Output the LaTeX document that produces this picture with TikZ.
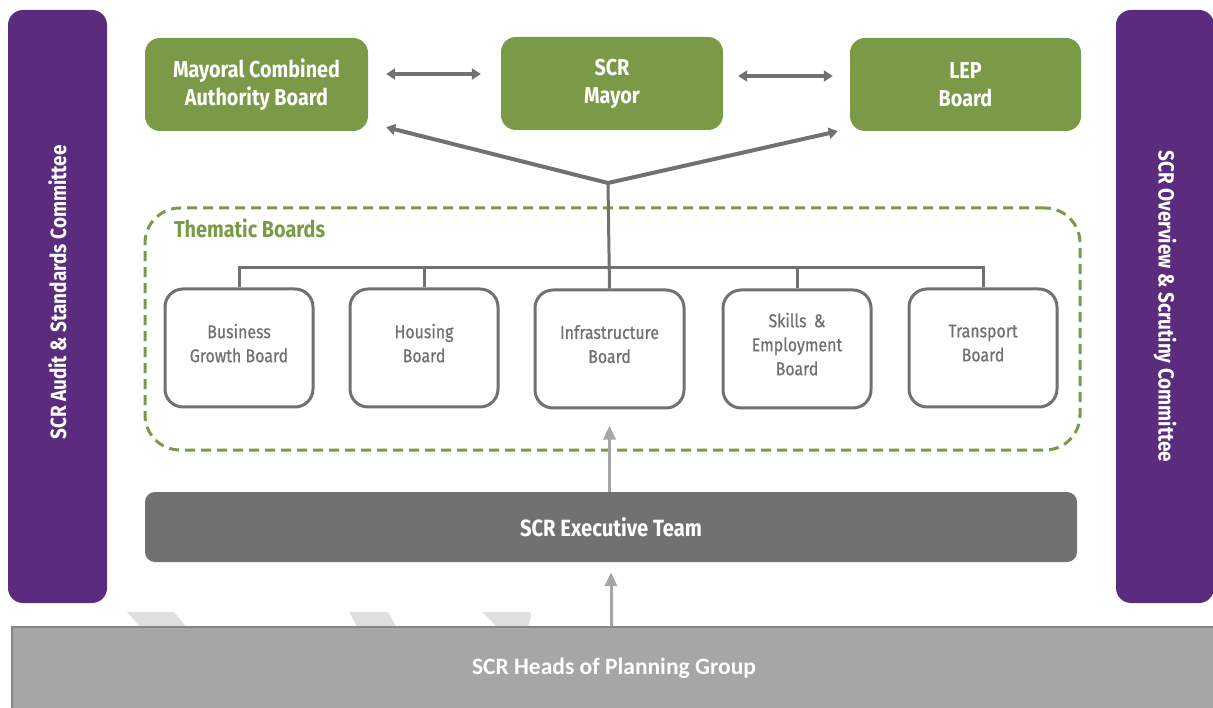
\documentclass[tikz,border=0pt]{standalone}
\usepackage{fontspec}
\setmainfont{Fira Sans}
\newfontfamily\boardfont[FakeStretch=0.86]{Fira Sans}
\newfontfamily\boardmid[FakeStretch=0.86,FakeBold=0.7]{Fira Sans}
\newfontfamily\planfont{Carlito}
\usetikzlibrary{arrows.meta}
\definecolor{scrgreen}{HTML}{7A9A48}
\definecolor{scrpurple}{HTML}{5B2C7E}
\definecolor{scrgrey}{HTML}{717171}
\definecolor{scrlight}{HTML}{A6A6A6}
\definecolor{scrfaint}{HTML}{DFDFDF}

\begin{document}
\begin{tikzpicture}[x=1pt,y=-1pt,
  greenbox/.style={fill=scrgreen,rounded corners=15pt,minimum width=223pt,minimum height=93pt,
    text=white,align=center,font=\boardfont\bfseries\fontsize{23}{28}\selectfont},
  boardbox/.style={draw=scrgrey,line width=3pt,fill=white,rounded corners=18pt,minimum width=148pt,
    minimum height=118pt,text=scrgrey,align=center,font=\boardmid\fontsize{18.5}{24}\selectfont},
  sidebar/.style={fill=scrpurple,rounded corners=15pt,minimum width=593pt,minimum height=99pt,
    text=white,font=\boardfont\bfseries\fontsize{22}{24}\selectfont},
  duo/.style={draw=scrgrey,line width=4pt,{Triangle[length=9pt,width=11pt]}-{Triangle[length=9pt,width=11pt]}},
  fork/.style={draw=scrgrey,line width=4pt,-{Triangle[length=9pt,width=11pt]}},
  bus/.style={draw=scrgrey,line width=3pt},
  uparrow/.style={draw=scrlight,line width=3pt,-{Triangle[length=14pt,width=12pt]}}]

\useasboundingbox (0,0) rectangle (1213,708);

\fill[scrfaint] (127,612) -- (174,612) -- (187,628) -- (141,628) -- cycle;
\fill[scrfaint] (349,612) -- (388,612) -- (397,628) -- (358,628) -- cycle;
\fill[scrfaint] (482,612) -- (530,612) to[out=-60,in=90] (528,628) -- (498,628) -- cycle;

\node[sidebar,rotate=90] (Auditx) at (57.5,306.5) {\hspace{28pt}SCR Audit \& Standards Committee};
\node[sidebar,rotate=-90,minimum height=98pt] (Scrutinyx) at (1165,306.5) {SCR Overview \& Scrutiny Committee\hspace{30pt}};

\node[greenbox] (MCAx) at (256.5,84.5) {Mayoral Combined\\Authority Board};
\node[greenbox,minimum width=222pt] (Mayorx) at (612,83.5) {SCR\\Mayor};
\node[greenbox,minimum width=231pt] (LEPx) at (965.5,84.5) {LEP\\Board};
\draw[duo] ([xshift=18pt,yshift=10.5pt]MCAx.east) -- ([xshift=-20pt,yshift=9.5pt]Mayorx.west);
\draw[duo] ([xshift=15pt,yshift=7.5pt]Mayorx.east) -- ([xshift=-17pt,yshift=8.5pt]LEPx.west);

\node[draw=scrgreen,dashed,dash pattern=on 10pt off 6pt,line width=3pt,rounded corners=35pt,
  minimum width=935pt,minimum height=242pt] (Themex) at (612.5,329) {};
\node[anchor=west,text=scrgreen,font=\boardfont\bfseries\fontsize{23}{24}\selectfont] (ThemeLx)
  at ([xshift=27pt,yshift=-22pt]Themex.north west) {Thematic Boards};

\node[boardbox] (BGx) at (239,348) {Business\\Growth Board\\[-14pt]};
\node[boardbox] (Housx) at (424,348) {Housing\\Board\\[-14pt]};
\node[boardbox,minimum width=149pt] (Infrax) at (609.5,349) {Infrastructure\\Board\\[-14pt]};
\node[boardbox] (Skillsx) at (797,349) {Skills \,\&\\Employment\\Board\\[-14pt]};
\node[boardbox] (Transx) at (983,348) {Transport\\Board\\[-14pt]};

\coordinate (Forkx) at (608,183);
\draw[fork] (Forkx) -- ([xshift=18pt,yshift=4pt]MCAx.south east);
\draw[fork] (Forkx) -- ([xshift=-12pt]LEPx.south west);
\draw[bus] (Forkx) -- (Infrax.north);
\draw[bus] (BGx.north) -- ++(0,-20) -| (Transx.north);
\draw[bus] (Housx.north) -- ++(0,-20);
\draw[bus] (Skillsx.north) -- ++(0,-21);

\node[fill=scrgrey,rounded corners=10pt,minimum width=932pt,minimum height=70pt,text=white,
  font=\boardfont\bfseries\fontsize{23.5}{24}\selectfont] (Execx) at (611,527) {SCR Executive Team};
\draw[uparrow] (Execx.north -| Infrax.south) -- ([yshift=-16pt]Infrax.south);

\node[fill=scrlight,draw=gray!95,line width=2pt,minimum width=1204pt,minimum height=83pt,text=white,
  font=\planfont\bfseries\fontsize{23.5}{24}\selectfont] (Headsx) at (614,668.5) {SCR Heads of Planning Group};
\draw[uparrow] (Headsx.north -| Execx.south) -- ([yshift=-10pt]Execx.south);

\end{tikzpicture}
\end{document}
